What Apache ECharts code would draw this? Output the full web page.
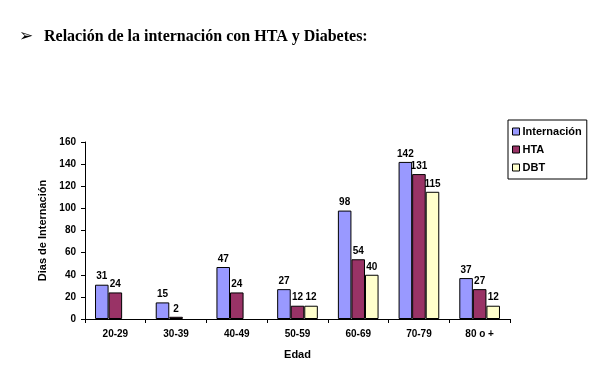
<!DOCTYPE html>
<html>
<head>
<meta charset="utf-8">
<script src="https://cdn.jsdelivr.net/npm/echarts@6/dist/echarts.min.js"></script>
<style>
html,body{margin:0;padding:0;background:#fff;}
#chart{width:612px;height:370px;}
</style>
</head>
<body>
<div id="chart"></div>
<script>
var categories = ['20-29','30-39','40-49','50-59','60-69','70-79','80 o +'];
var internacion = [31,15,47,27,98,142,37];
var hta = [24,2,24,12,54,131,27];
var dbt = [null,null,null,12,40,115,12];
var yTicks = [0,20,40,60,80,100,120,140,160];
var seriesNames = ['Internación','HTA','DBT'];
var titleText = 'Relación de la internación con HTA y Diabetes:';

var chart = echarts.init(document.getElementById('chart'), null, {renderer:'canvas'});
var lbl = {show:true, position:'top', distance:3, color:'#000', fontFamily:'Liberation Sans, Arial', fontWeight:'bold', fontSize:10};
function mk(name, data, color){
  return {
    name:name, type:'bar', data:data, barGap:'0%', barCategoryGap:'33%',
    itemStyle:{color:color, borderColor:'#000', borderWidth:1},
    label:lbl, animation:false
  };
}
chart.setOption({
  animation:false,
  backgroundColor:'#fff',
  graphic:[
    {type:'text', left:19, top:28, style:{text:'\u27A2', font:'bold 17px DejaVu Sans', fill:'#000'}},
    {type:'text', left:44, top:29, style:{text:titleText, font:'bold 16px Liberation Serif, Times New Roman', fill:'#000'}}
  ],
  legend:{
    orient:'vertical', left:508, top:120,
    padding:[6,5,6,4], itemGap:7,
    itemWidth:7, itemHeight:7, icon:'rect',
    borderColor:'#000', borderWidth:1,
    textStyle:{fontFamily:'Liberation Sans, Arial', fontWeight:'bold', fontSize:11, color:'#000', padding:[0,0,0,-2]},
    data:seriesNames,
    itemStyle:{borderColor:'#000', borderWidth:1}
  },
  grid:{left:85, right:102, top:142, bottom:51, containLabel:false},
  xAxis:{
    type:'category', data:categories,
    name:'Edad', nameLocation:'middle', nameGap:30,
    nameTextStyle:{fontFamily:'Liberation Sans, Arial', fontWeight:'bold', fontSize:11, color:'#000'},
    axisLine:{lineStyle:{color:'#000', width:1}},
    axisTick:{show:true, inside:false, length:4, lineStyle:{color:'#000'}},
    axisLabel:{margin:10, fontFamily:'Liberation Sans, Arial', fontWeight:'bold', fontSize:10, color:'#000'}
  },
  yAxis:{
    type:'value', min:yTicks[0], max:yTicks[yTicks.length-1], interval:20,
    name:'Dias de Internación', nameLocation:'middle', nameGap:36, nameRotate:90,
    nameTextStyle:{fontFamily:'Liberation Sans, Arial', fontWeight:'bold', fontSize:11, color:'#000'},
    axisLine:{show:true, lineStyle:{color:'#000', width:1}},
    axisTick:{show:true, inside:false, length:4, lineStyle:{color:'#000'}},
    splitLine:{show:false},
    axisLabel:{margin:9, fontFamily:'Liberation Sans, Arial', fontWeight:'bold', fontSize:10, color:'#000'}
  },
  series:[
    mk(seriesNames[0], internacion, '#9999FF'),
    mk(seriesNames[1], hta, '#993366'),
    mk(seriesNames[2], dbt, '#FFFFCC')
  ]
});
</script>
</body>
</html>
